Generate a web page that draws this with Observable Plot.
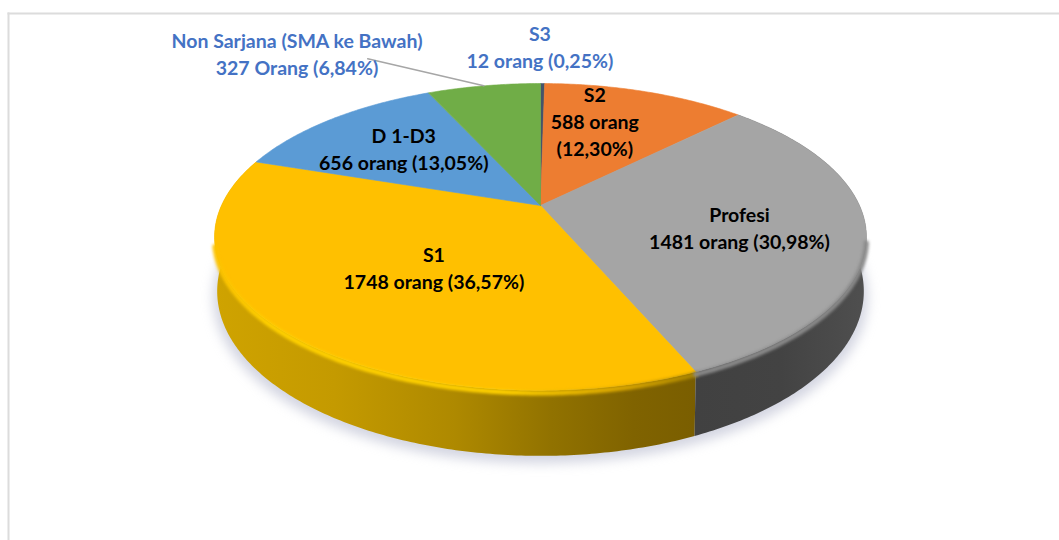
<!DOCTYPE html>
<html>
<head>
<meta charset="utf-8">
<script src="https://cdn.jsdelivr.net/npm/d3@7"></script>
<script src="https://cdn.jsdelivr.net/npm/@observablehq/plot@0.6"></script>
<style>
html,body{margin:0;padding:0;background:#fff}
svg{display:block}
</style>
</head>
<body>
<div id="chart"></div>
<script>
// ---- data, clockwise from 12 o'clock
const categories = ["S3", "S2", "Profesi", "S1", "D 1-D3", "Non Sarjana"];
const percents = [0.25, 12.30, 30.98, 36.57, 13.05, 6.84];
const labels = [
  "S3\n12 orang (0,25%)",
  "S2\n588 orang\n(12,30%)",
  "Profesi\n1481 orang (30,98%)",
  "S1\n1748 orang (36,57%)",
  "D 1-D3\n656 orang (13,05%)",
  "Non Sarjana (SMA ke Bawah)\n327 Orang (6,84%)"
];

// ---- style and layout
const sliceColors = ["#44546A", "#ED7D31", "#A5A5A5", "#FFC000", "#5B9BD5", "#70AD47"];
const labelColors = ["#4472C4", "#000", "#000", "#000", "#000", "#4472C4"];
const labelShift = [[-2, -79], [-15, -10], [0, 4], [41, -13], [-1, -2], [-206, -73]];
const tilt = 0.205;      // perspective of the disc
const thickness = 0.354; // height of the disc, in y-scale units
const leaderIndex = 5;
const leaderReach = [-0.364, 0.184];

// ---- geometry derived from the values
const total = d3.sum(percents);
let running = 0;
const slices = categories.map((name, i) => {
  const a0 = running / total * 2 * Math.PI;
  running += percents[i];
  const a1 = running / total * 2 * Math.PI;
  return {name, i, a0, a1, mid: (a0 + a1) / 2};
});

function project(theta, r = 1, drop = 0, shrink = 1) {
  const u = r * Math.sin(theta), v = r * Math.cos(theta);
  const w = 1 + tilt * v;
  return {x: shrink * u / w, y: (v - drop) / w};
}
const arc = (s, r = 1, drop = 0, shrink = 1) => {
  const n = Math.max(2, Math.ceil((s.a1 - s.a0) * 90));
  return d3.range(n + 1).map(k => project(s.a0 + (s.a1 - s.a0) * k / n, r, drop, shrink));
};
const face = s => [project(0, 0), ...arc(s), project(0, 0)].map(p => ({...p, name: s.name}));
const wall = s => [...arc(s), ...arc(s, 1, thickness, 0.992).reverse()];

const topFaces = slices.flatMap(face);
const ring = {a0: 0, a1: 2 * Math.PI};
const shadow = arc(ring, 1, thickness + 0.04, 1.004);

const labelRows = slices.map(s => {
  const p = project(s.mid, 0.62);
  return {...p, text: labels[s.i], color: labelColors[s.i], shift: labelShift[s.i]};
});
const rim = project(slices[leaderIndex].mid);
const leader = [rim, {x: rim.x + leaderReach[0], y: rim.y + leaderReach[1]}];

// ---- gradient definitions for the side walls and the soft rim
const gradients = {
  wallS1: [[0, "#cfa300"], [0.25, "#c49a00"], [0.5, "#ae8900"], [0.7, "#917200"], [0.87, "#806300"], [1, "#7a5e00"]],
  wallProfesi: [[0, "#414141"], [0.5, "#434343"], [1, "#4f4f4f"]],
  rimS1: [[0, "#fcc200"], [0.12, "#ffd000"], [0.6, "#ffd000"], [0.85, "#d9a600"], [1, "#a98500"]]
};
const defsMark = () => {
  const defs = d3.create("svg:defs");
  for (const [id, stops] of Object.entries(gradients)) {
    const g = defs.append("linearGradient").attr("id", id);
    for (const [o, c] of stops) g.append("stop").attr("offset", o).attr("stop-color", c);
  }
  return defs.node();
};

const s1 = slices[3], profesi = slices[2];
const edge = (s, fromFrac = 0, toFrac = 1) =>
  arc({a0: s.a0 + (s.a1 - s.a0) * fromFrac, a1: s.a0 + (s.a1 - s.a0) * toFrac}, 1, 0.014);

const plot = Plot.plot({
  width: 1059,
  height: 540,
  marginLeft: 8,
  marginTop: 13,
  marginRight: 0,
  marginBottom: 0,
  style: {background: "#fff", overflow: "visible"},
  x: {domain: [-1, 1], range: [221, 859], axis: null},
  y: {domain: [-1, 1], range: [352, 58], axis: null},
  color: {domain: categories, range: sliceColors},
  marks: [
    defsMark,
    Plot.frame({anchor: "left", stroke: "#dcdcdc", strokeWidth: 2}),
    Plot.frame({anchor: "top", stroke: "#dcdcdc", strokeWidth: 2}),
    Plot.line(shadow, {x: "x", y: "y", fill: "#aeb2c8", stroke: "none", fillOpacity: 0.55, imageFilter: "blur(6px)"}),
    Plot.line(wall(s1), {x: "x", y: "y", fill: "url(#wallS1)", stroke: "none"}),
    Plot.line(wall(profesi), {x: "x", y: "y", fill: "url(#wallProfesi)", stroke: "none"}),
    Plot.line(topFaces, {x: "x", y: "y", z: "name", fill: "name", stroke: "name", strokeWidth: 0.6}),
    Plot.line(edge(s1, 0, 0.75), {x: "x", y: "y", stroke: "url(#rimS1)", strokeWidth: 5, imageFilter: "blur(1.6px)"}),
    Plot.line(edge(profesi, 0.52), {x: "x", y: "y", stroke: "#8a8a8a", strokeWidth: 5, imageFilter: "blur(1.6px)"}),
    Plot.line(leader, {x: "x", y: "y", stroke: "#a6a6a6", strokeWidth: 1.5}),
    ...labelRows.map(d => Plot.text([d], {
      x: "x", y: "y", text: "text",
      dx: d.shift[0], dy: d.shift[1],
      fill: d.color,
      fontFamily: "Lato, 'Open Sans', sans-serif",
      fontWeight: 700,
      fontSize: 19.5,
      lineHeight: 1.385,
      textAnchor: "middle",
      lineAnchor: "middle"
    }))
  ]
});
document.getElementById("chart").append(plot);
</script>
</body>
</html>
